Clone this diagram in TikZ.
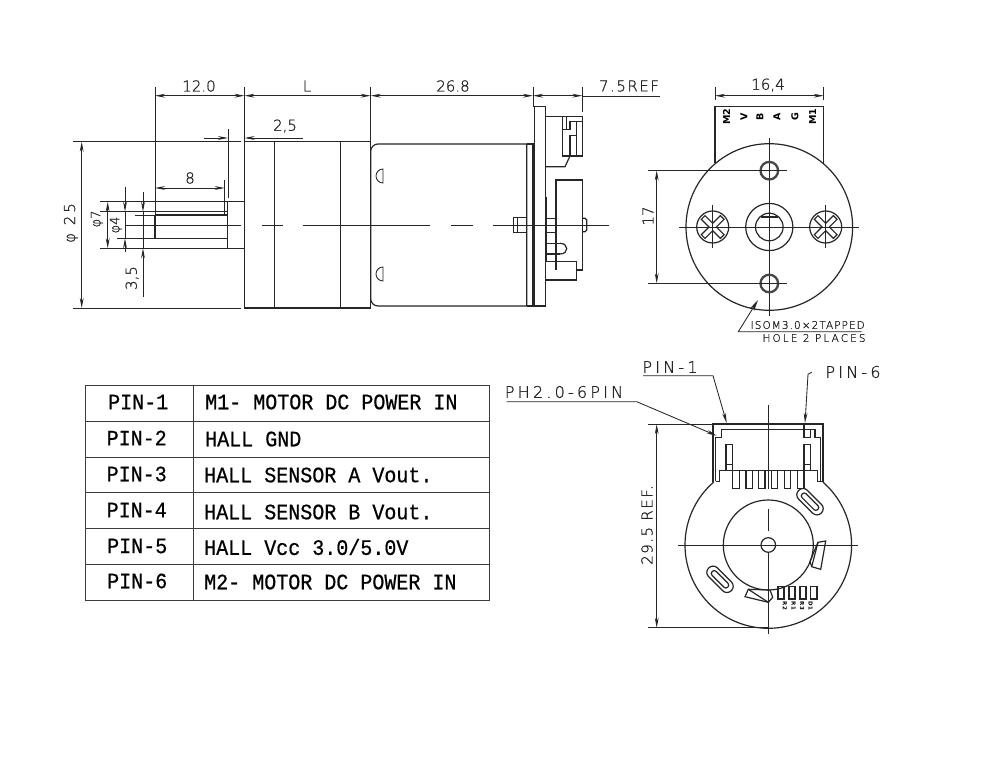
\documentclass[tikz,border=0pt]{standalone}
\usepackage{fontspec}
\usetikzlibrary{arrows.meta}
\setmainfont{DejaVu Sans}
\newfontfamily\cad[FakeBold=1]{DejaVu Sans ExtraLight}
\newfontfamily\cadn[FakeBold=1,LetterSpace=10]{DejaVu Sans ExtraLight}
\newfontfamily\cadw[FakeBold=1,LetterSpace=20]{DejaVu Sans ExtraLight}
\newfontfamily\tabf[FakeStretch=0.91,FakeBold=0.6]{Liberation Mono}
\definecolor{ink}{HTML}{262626}
\tikzset{
 thin line/.style={draw=ink,line width=0.85pt},
 part/.style={draw=ink,line width=1.2pt},
 heavy/.style={draw=ink,line width=1.7pt},
 ring/.style={draw=ink!85,line width=2.3pt},
 dimen/.style={draw=ink,line width=0.85pt,{Stealth[length=10pt,width=3.8pt]}-{Stealth[length=10pt,width=3.8pt]}},
 tipend/.style={draw=ink,line width=0.85pt,-{Stealth[length=10pt,width=3.8pt]}},
 dimtext/.style={text=ink,inner sep=0pt,font=\fontsize{15}{15}\cad},
 labeltext/.style={text=ink,inner sep=0pt,font=\fontsize{16}{16}\cadw},
 notetext/.style={text=ink,inner sep=0pt,font=\fontsize{10.5}{11}\cadn},
 tabtext/.style={text=black,inner sep=0pt,font=\fontsize{22}{22}\tabf},
 tabrule/.style={draw=ink!90,line width=1pt},
 pintext/.style={text=black,inner sep=0pt,font=\fontsize{9.5}{9.5}\selectfont\bfseries,rotate=90},
 tinytext/.style={text=black,inner sep=0pt,font=\fontsize{5.5}{5.5}\selectfont\bfseries,rotate=-90},
}
\begin{document}
\begin{tikzpicture}[x=1pt,y=-1pt]
\useasboundingbox (0,0) rectangle (1000,775);
\fill[white] (0,0) rectangle (1000,775);

% ---------- side view ----------
\draw[part] (244.5,141.7) rectangle (370.7,308);
\draw[part] (274.7,141.7)--(274.7,308) (340.7,141.7)--(340.7,308);
\draw[heavy] (244.5,87)--(244.5,198);
\draw[part] (244.5,201.7)--(227.7,201.7)--(227.7,248.3)--(244.5,248.3);
\draw[part] (155,215)--(227.7,215) (155,238.3)--(227.7,238.3);
\draw[heavy] (155,215)--(155,238.3);
% centre line
\draw[thin line] (125,225)--(241,225) (262,225)--(283,225) (303,225)--(430,225)
 (451,225)--(473,225) (493,225)--(609,225);
% motor can
\draw[part] (526.7,144)--(378,144) arc[start angle=90,end angle=180,radius=7.3pt]--(370.7,298.7)
 arc[start angle=180,end angle=270,radius=7.3pt]--(526.7,306)--cycle;
\draw[part] (526.7,144)--(533,144)--(533,306)--(526.7,306);
\draw[part] (534.6,106.7)rectangle(545.7,306);
\draw[thin line] (383,169) arc[start angle=90,end angle=270,radius=7pt]--cycle;
\draw[thin line] (383,267) arc[start angle=90,end angle=270,radius=7pt]--cycle;
% connector
\draw[part] (545.7,116.7)--(582.3,116.7)--(582.3,156)--(562.3,156)--(562.3,116.7);
\draw[part] (566.7,116.7)--(566.7,129.3)--(562.3,129.3);
\draw[part] (566.7,129.3)--(570,129.3)--(570,121.7)--(582.3,121.7);
\draw[part] (576.7,121.7)--(576.7,156) (570,156)--(570,135.7)--(576.7,135.7);
\draw[part] (570,156)--(565,166.7)--(545.7,166.7);
% encoder side
\draw[part] (556,270)--(556,180)--(582.3,180)--(582.3,270)--(576.7,270);
\draw[heavy] (546.5,196.7)--(546.5,262);
\draw[part] (513.3,217.7)rectangle(526.7,232.3) (517.3,217.7)--(517.3,232.3);
\draw[part] (545.7,218.3)--(556,218.3) (545.7,232.3)--(556,232.3);
\draw[part] (582.3,218.3)--(585,218.3)--(586.7,220)--(586.7,230)--(585,231.7)--(582.3,231.7);
\draw[part] (545.7,243.3)--(560,243.3) (545.7,254)--(560,254);
\draw[part] (560,243.3)..controls (569,243.3) and (569,254)..(560,254);
\draw[part] (545.7,261.7)--(576.7,261.7)--(576.7,280)--(545.7,280);
% dimensions, side view
\draw[thin line] (155,87)--(155,215) (370.7,87)--(370.7,144) (533,87)--(533,106.7) (582.3,87)--(582.3,112);
\draw[dimen] (155,95.7)--(244.5,95.7);
\draw[dimen] (244.5,95.7)--(370.7,95.7);
\draw[dimen] (370.7,95.7)--(533,95.7);
\draw[dimen] (533,95.7)--(582.3,95.7);
\draw[thin line] (582.3,96.2)--(660,96.2);
\node[dimtext] (t120) at (199,86) {12.0};
\node[dimtext] (tL) at (307,86) {L};
\node[dimtext] (t268) at (453,86) {26.8};
\node[dimtext,font=\fontsize{15}{15}\cadn] (t75) at (629,86) {7.5REF};
% 2,5
\draw[thin line] (228,129)--(228,198);
\draw[tipend] (204,138)--(228,138);
\draw[tipend] (303,138)--(244.5,138);
\node[dimtext] (t25a) at (285,126) {2,5};
% phi 25
\draw[thin line] (73,141.7)--(241,141.7) (73,308)--(241,308);
\draw[dimen] (81.7,141.7)--(81.7,308);
\node[dimtext,font=\fontsize{15}{15}\cadw,rotate=90] (tphi25) at (71,223) {φ 25};
% 8
\draw[thin line] (224.7,180)--(224.7,215) (135,215)--(155,215);
\draw[dimen] (155,188)--(224.7,188);
\node[dimtext] (t8) at (190,178) {8};
% phi 7, phi 4, 3,5
\draw[thin line] (100,201.7)--(227.7,201.7) (100,248.3)--(227.7,248.3);
\draw[thin line] (100,211.7)--(227.7,211.7) (117,238.3)--(155,238.3);
\draw[dimen] (107.7,201.7)--(107.7,248.3);
\draw[tipend] (125,187)--(125,211.7);
\draw[tipend] (125,252)--(125,238.3);
\draw[thin line] (125,238.3)--(125,211.7);
\draw[tipend] (143,192)--(143,211.7);
\draw[tipend] (143,297)--(143,248.3);
\draw[thin line] (143,211.7)--(143,248.3);
\node[dimtext,font=\fontsize{13}{13}\cad,rotate=90] (tp7) at (97,219) {φ7};
\node[dimtext,font=\fontsize{13}{13}\cad,rotate=90] (tp4) at (116,225) {φ4};
\node[dimtext,rotate=90] (t35) at (132,278) {3,5};

% ---------- end view ----------
\draw[part] (715,163)--(715,106.7)--(823.7,106.7)--(823.7,163);
\draw[part] (769.3,227) circle[radius=83.3pt];
\draw[part] (769.3,227) circle[radius=23.6pt];
\draw[part] (769.3,227) circle[radius=13.8pt];
\draw[part] (760.7,217)--(777.9,217);
\draw[thin line] (679,227)--(859,227) (769.3,138)--(769.3,316);
\draw[ring] (769.3,170.7) circle[radius=8.8pt];
\draw[ring] (769.3,283.5) circle[radius=8.8pt];
\draw[thin line] (648,170.5)--(786.7,170.5) (648,283.3)--(786.7,283.3);
\draw[dimen] (656.7,170.5)--(656.7,283.3);
\node[dimtext,rotate=90] (t17) at (648,216) {17};
\foreach \cx/\nm in {712.7/l,825.7/r}{
 \draw[part] (\cx,227) circle[radius=16pt];
 \draw[thin line] (\cx,205)--(\cx,248);
 \draw[part,rotate around={45:(\cx,227)}]
  (\cx-2.6,227-13.5)--(\cx+2.6,227-13.5)--(\cx+2.6,227-2.6)--(\cx+13.5,227-2.6)--(\cx+13.5,227+2.6)
  --(\cx+2.6,227+2.6)--(\cx+2.6,227+13.5)--(\cx-2.6,227+13.5)--(\cx-2.6,227+2.6)--(\cx-13.5,227+2.6)
  --(\cx-13.5,227-2.6)--(\cx-2.6,227-2.6)--cycle;
}
\draw[thin line] (715,87)--(715,100) (823.7,87)--(823.7,100);
\draw[dimen] (715,95.7)--(823.7,95.7);
\node[dimtext] (t164) at (768,85) {16,4};
\node[pintext] (pm2) at (726.7,116.7) {M2};
\node[pintext] (pv) at (744,116.7) {V};
\node[pintext] (pb) at (760,116.7) {B};
\node[pintext] (pa) at (777,116.7) {A};
\node[pintext] (pg) at (795,116.7) {G};
\node[pintext] (pm1) at (812.7,116.7) {M1};
% tapped hole note
\coordinate (holeTip) at (758,300);
\coordinate (holeKnee) at (738.3,331.7);
\coordinate (holeEnd) at (861.7,331.7);
\draw[thin line,-{Stealth[length=12pt,width=5pt]}] (holeEnd)--(holeKnee)--(holeTip);
\node[notetext] (nt1) at (807.7,325) {ISOM3.0×2TAPPED};
\node[notetext,font=\fontsize{10.5}{11}\cadw] (nt2) at (814,338) {HOLE 2 PLACES};

% ---------- table ----------
\draw[tabrule] (85,385.7) rectangle (489,600);
\draw[tabrule] (193,385.7)--(193,600);
\foreach \yy in {421.7,457.3,492.7,528.3,564}{\draw[tabrule] (85,\yy)--(489,\yy);}
\node[tabtext,anchor=west] (p1) at (108,402) {PIN-1};
\node[tabtext,anchor=west] (p2) at (106.5,438) {PIN-2};
\node[tabtext,anchor=west] (p3) at (106.5,474) {PIN-3};
\node[tabtext,anchor=west] (p4) at (106.5,510) {PIN-4};
\node[tabtext,anchor=west] (p5) at (107,546) {PIN-5};
\node[tabtext,anchor=west] (p6) at (107,581) {PIN-6};
\node[tabtext,anchor=west] (d1) at (205,402) {M1- MOTOR DC POWER IN};
\node[tabtext,anchor=west] (d2) at (205,439) {HALL GND};
\node[tabtext,anchor=west] (d3) at (204,475) {HALL SENSOR A Vout.};
\node[tabtext,anchor=west] (d4) at (204,512) {HALL SENSOR B Vout.};
\node[tabtext,anchor=west] (d5) at (204,547) {HALL Vcc 3.0/5.0V};
\node[tabtext,anchor=west] (d6) at (204,582) {M2- MOTOR DC POWER IN};

% ---------- encoder view ----------
\draw[part] (768.3,545) ++(131:83.3pt) arc[start angle=131,end angle=409,radius=83.3pt];
\draw[part] (768.3,545) circle[radius=45pt];
\draw[part] (768.3,545) circle[radius=7.3pt];
\draw[thin line] (678,545)--(858,545);
\draw[thin line] (768.3,405)--(768.3,488.5) (768.3,509)--(768.3,531) (768.3,552)--(768.3,634);
% housing
\draw[heavy] (713.3,481.7)--(713.3,424.3)--(822.7,424.3)--(822.7,481.7);
\draw[part] (715.7,481)--(715.7,437.7)--(721.7,437.7)--(721.7,429.5)--(815,429.5)--(815,437.7)--(820.7,437.7)--(820.7,481);
\draw[part] (804,424.3)--(804,437.7)--(810.7,437.7)--(810.7,430);
\draw[part] (715.7,481.7)--(719.3,481.7)--(719.3,470.7)--(817.3,470.7)--(817.3,481.7)--(822.7,481.7);
\draw[part] (726,444.3) rectangle (732.7,470.7) (726,464.3)--(732.7,464.3);
\draw[part] (804,444.3) rectangle (810.7,470.7) (804,464.3)--(810.7,464.3);
\foreach \xa/\xb in {732.7/739.3,746/752.3,758.7/765,771.7/777.7,784.3/790.7,797.3/804}{
 \draw[part] (\xa,470.7)--(\xa,488.3)--(\xb,488.3)--(\xb,470.7);
}
% slots
\foreach \cx/\cy in {810/501.7,720/579.3}{
 \draw[part,rotate around={-45:(\cx,\cy)},rounded corners=6pt] (\cx-16,\cy-6.2) rectangle (\cx+16,\cy+6.2);
 \draw[part,rotate around={-45:(\cx,\cy)},rounded corners=2.5pt] (\cx-11,\cy-2.8) rectangle (\cx+11,\cy+2.8);
}
% magnets
\draw[part] (818,542.3)--(825.7,541)--(820.7,569.3)--(811.7,566.7)--(810,561.7)--(814,551.7)--cycle;
\draw[part] (818,542.3)--(811.7,566.7);
\draw[part] (748.3,589.3)--(770,590)--(772.7,597.3)--(768.3,602.3)--(745,596.7)--cycle;
\draw[part] (748.3,589.3)--(768.3,602.3);
% small parts
\foreach \xa/\xb in {778/784,789/795,800/806,810.7/817}{
 \draw[part] (\xa,586.7) rectangle (\xb,599);
}
\node[tinytext] (r2) at (785,606) {R2};
\node[tinytext] (r1) at (793.5,606) {R1};
\node[tinytext] (r3) at (802,606) {R3};
\node[tinytext] (di) at (810.5,606) {D1};
% 29.5
\draw[thin line] (648,424.3)--(713.3,424.3) (648,627.7)--(768,627.7);
\draw[dimen] (656.7,424.3)--(656.7,627.7);
\node[dimtext,font=\fontsize{15}{15}\cadn,rotate=90] (t295) at (647,525) {29.5 REF.};
% leaders
\node[labeltext] (lpin1) at (670,367) {PIN-1};
\node[labeltext] (lph) at (564,392) {PH2.0-6PIN};
\node[labeltext] (lpin6) at (853,372) {PIN-6};
\coordinate (pin1a) at (643,375.7);
\coordinate (pin1b) at (713,375.7);
\coordinate (pin1t) at (726.7,423);
\coordinate (pha) at (506.7,401.7);
\coordinate (phb) at (636.7,401.7);
\coordinate (pht) at (716.7,435.7);
\coordinate (pin6a) at (811.7,372.3);
\coordinate (pin6b) at (808,374.3);
\coordinate (pin6t) at (805,423);
\draw[tipend] (pin1a)--(pin1b)--(pin1t);
\draw[tipend] (pha)--(phb)--(pht);
\draw[tipend] (pin6a)--(pin6b)--(pin6t);
\end{tikzpicture}
\end{document}
